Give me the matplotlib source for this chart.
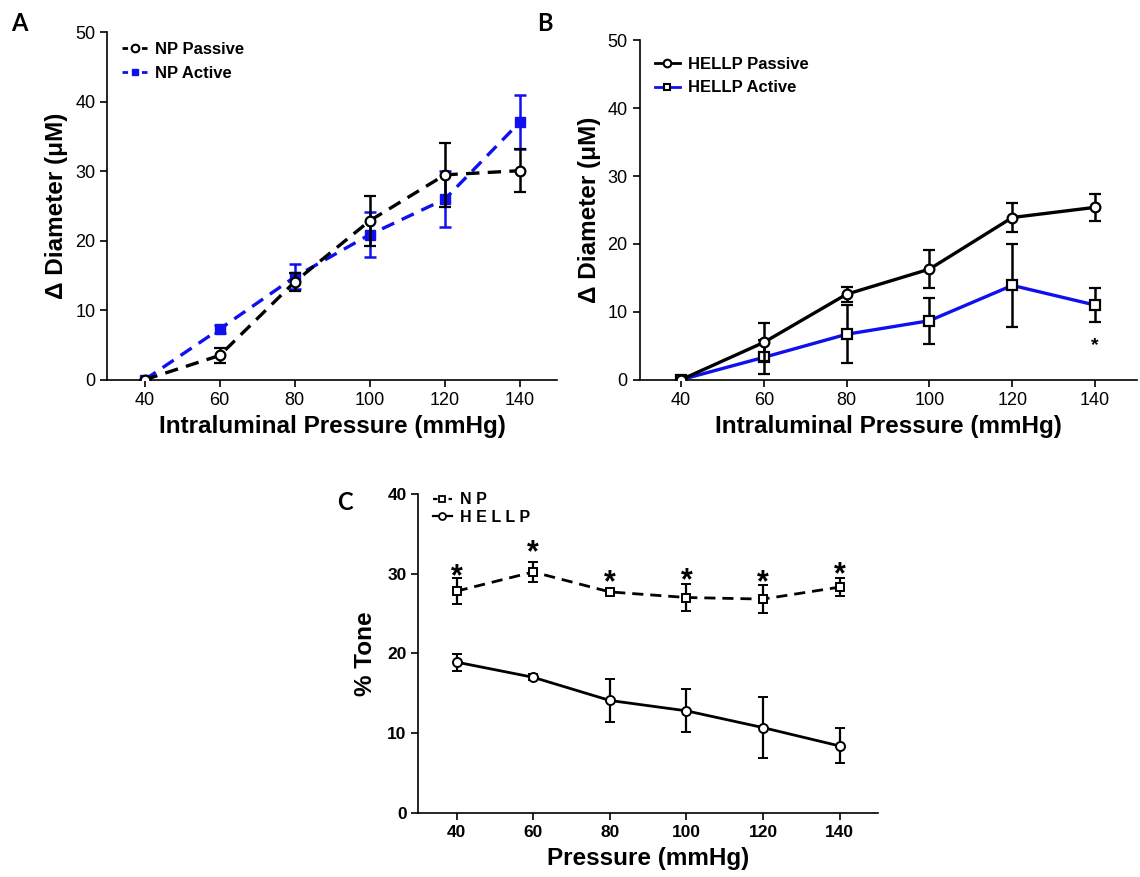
import matplotlib
matplotlib.use("Agg")
import matplotlib.pyplot as plt
from matplotlib.lines import Line2D

plt.rcParams['font.family'] = ['Liberation Sans', 'DejaVu Sans']

pressure = [40, 60, 80, 100, 120, 140]
xticks = [40, 60, 80, 100, 120, 140]

# Panel A
np_passive = [0.0, 3.5, 14.1, 22.9, 29.5, 30.1]
np_passive_err = [0.0, 1.1, 1.3, 3.6, 4.6, 3.1]
np_active = [0.0, 7.3, 14.8, 20.9, 26.0, 37.1]
np_active_err = [0.0, 0.6, 1.8, 3.2, 4.0, 3.9]

# Panel B
hellp_passive = [0.0, 5.5, 12.6, 16.3, 23.9, 25.4]
hellp_passive_err = [0.0, 2.8, 1.1, 2.8, 2.1, 2.0]
hellp_active = [0.0, 3.3, 6.7, 8.7, 13.9, 11.0]
hellp_active_err = [0.0, 2.5, 4.3, 3.4, 6.1, 2.5]
b_star_x = [140]
b_star_y = [5.0]

# Panel C
np_tone = [27.8, 30.2, 27.7, 27.0, 26.8, 28.3]
np_tone_err = [1.6, 1.3, 0.3, 1.75, 1.8, 1.1]
hellp_tone = [18.9, 17.0, 14.1, 12.8, 10.7, 8.4]
hellp_tone_err = [1.05, 0.4, 2.65, 2.7, 3.8, 2.2]
c_star_y = [30.4, 33.3, 29.6, 29.8, 29.6, 30.6]

BLUE = '#1010ee'

fig = plt.figure(figsize=(11.4, 8.77), dpi=100)


def style(ax, ymax, ystep, bold_ticks=False, fs=13):
    for s in ['top', 'right']:
        ax.spines[s].set_visible(False)
    for s in ['left', 'bottom']:
        ax.spines[s].set_linewidth(1.2)
    ax.set_xlim(30, 150)
    ax.set_ylim(0, ymax)
    ax.set_xticks(xticks)
    ax.set_yticks(range(0, ymax + 1, ystep))
    ax.tick_params(axis='both', direction='out', length=5, width=1.2, labelsize=fs)
    if bold_ticks:
        for lab in ax.get_xticklabels() + ax.get_yticklabels():
            lab.set_fontweight('bold')


# ---------- Panel A ----------
axA = fig.add_axes([0.094, 0.567, 0.395, 0.396])
style(axA, 50, 10)
axA.errorbar(pressure, np_passive, yerr=np_passive_err, color='black', ls='--', lw=2.4,
             marker='o', ms=7, mfc='white', mec='black', mew=1.6,
             ecolor='black', elinewidth=1.8, capsize=4, capthick=1.8, dashes=(4, 2.5), zorder=3)
axA.errorbar(pressure, np_active, yerr=np_active_err, color=BLUE, ls='--', lw=2.4,
             marker='s', ms=6.5, mfc=BLUE, mec=BLUE,
             ecolor=BLUE, elinewidth=1.8, capsize=4, capthick=1.8, dashes=(4, 2.5), zorder=2)
axA.set_xlabel('Intraluminal Pressure (mmHg)', fontsize=17.5, fontweight='bold', labelpad=5)
axA.set_ylabel('Δ Diameter (μM)', fontsize=17.5, fontweight='bold', labelpad=5)
hA = [Line2D([], [], color='black', ls='--', lw=2, marker='o', ms=5.5, mfc='white', mec='black', mew=1.5, dashes=(2, 1.5)),
      Line2D([], [], color=BLUE, ls='--', lw=2, marker='s', ms=5, mfc=BLUE, mec=BLUE, dashes=(2, 1.5))]
axA.legend(hA, ['NP Passive', 'NP Active'], loc='upper left', bbox_to_anchor=(0.0, 1.015), frameon=False,
           prop={'weight': 'bold', 'size': 12}, handlelength=1.5, handletextpad=0.5, labelspacing=0.5)
fig.text(0.017, 0.973, 'A', fontsize=17, fontweight='bold', family='Lato', ha='center', va='center')

# ---------- Panel B ----------
axB = fig.add_axes([0.561, 0.567, 0.436, 0.387])
style(axB, 50, 10)
axB.errorbar(pressure, hellp_passive, yerr=hellp_passive_err, color='black', ls='-', lw=2.4,
             marker='o', ms=7, mfc='white', mec='black', mew=1.6,
             ecolor='black', elinewidth=1.8, capsize=4, capthick=1.8, zorder=3)
axB.errorbar(pressure, hellp_active, yerr=hellp_active_err, color=BLUE, ls='-', lw=2.4,
             marker='s', ms=6.5, mfc='white', mec='black', mew=1.6,
             ecolor='black', elinewidth=1.8, capsize=4, capthick=1.8, zorder=2)
for x, y in zip(b_star_x, b_star_y):
    axB.text(x, y, '*', fontsize=14, fontweight='bold', ha='center', va='center')
axB.set_xlabel('Intraluminal Pressure (mmHg)', fontsize=17.5, fontweight='bold', labelpad=5)
axB.set_ylabel('Δ Diameter (μM)', fontsize=17.5, fontweight='bold', labelpad=5)
hB = [Line2D([], [], color='black', ls='-', lw=2, marker='o', ms=5.5, mfc='white', mec='black', mew=1.5),
      Line2D([], [], color=BLUE, ls='-', lw=2, marker='s', ms=5, mfc='white', mec='black', mew=1.5)]
axB.legend(hB, ['HELLP Passive', 'HELLP Active'], loc='upper left', bbox_to_anchor=(0.0, 0.995), frameon=False,
           prop={'weight': 'bold', 'size': 12}, handlelength=1.5, handletextpad=0.5, labelspacing=0.5)
fig.text(0.478, 0.973, 'B', fontsize=17, fontweight='bold', family='Lato', ha='center', va='center')

# ---------- Panel C ----------
axC = fig.add_axes([0.367, 0.073, 0.403, 0.364])
style(axC, 40, 10, bold_ticks=True, fs=12.5)
axC.errorbar(pressure, np_tone, yerr=np_tone_err, color='black', ls='--', lw=2.0,
             marker='s', ms=6, mfc='white', mec='black', mew=1.4,
             ecolor='black', elinewidth=1.6, capsize=3.5, capthick=1.6, dashes=(4, 2.5), zorder=3)
axC.errorbar(pressure, hellp_tone, yerr=hellp_tone_err, color='black', ls='-', lw=2.0,
             marker='o', ms=6.5, mfc='white', mec='black', mew=1.4,
             ecolor='black', elinewidth=1.6, capsize=3.5, capthick=1.6, zorder=3)
for x, y in zip(pressure, c_star_y):
    axC.text(x, y - 0.8, '*', fontsize=22, fontweight='bold', ha='center', va='center')
axC.set_xlabel('Pressure (mmHg)', fontsize=17.5, fontweight='bold', labelpad=5)
axC.set_ylabel('% Tone', fontsize=17.5, fontweight='bold', labelpad=7)
hC = [Line2D([], [], color='black', ls='--', lw=1.6, marker='s', ms=5, mfc='white', mec='black', mew=1.3, dashes=(2, 1.5)),
      Line2D([], [], color='black', ls='-', lw=1.6, marker='o', ms=5, mfc='white', mec='black', mew=1.3)]
axC.legend(hC, ['N P', 'H E L L P'], loc='upper left', bbox_to_anchor=(0.0, 1.05), frameon=False,
           prop={'size': 11.5, 'weight': 'semibold'}, handlelength=1.2, handletextpad=0.5, labelspacing=0.15)
fig.text(0.303, 0.427, 'C', fontsize=17, fontweight='bold', family='Lato', ha='center', va='center')

fig.savefig('out.png', dpi=100)
